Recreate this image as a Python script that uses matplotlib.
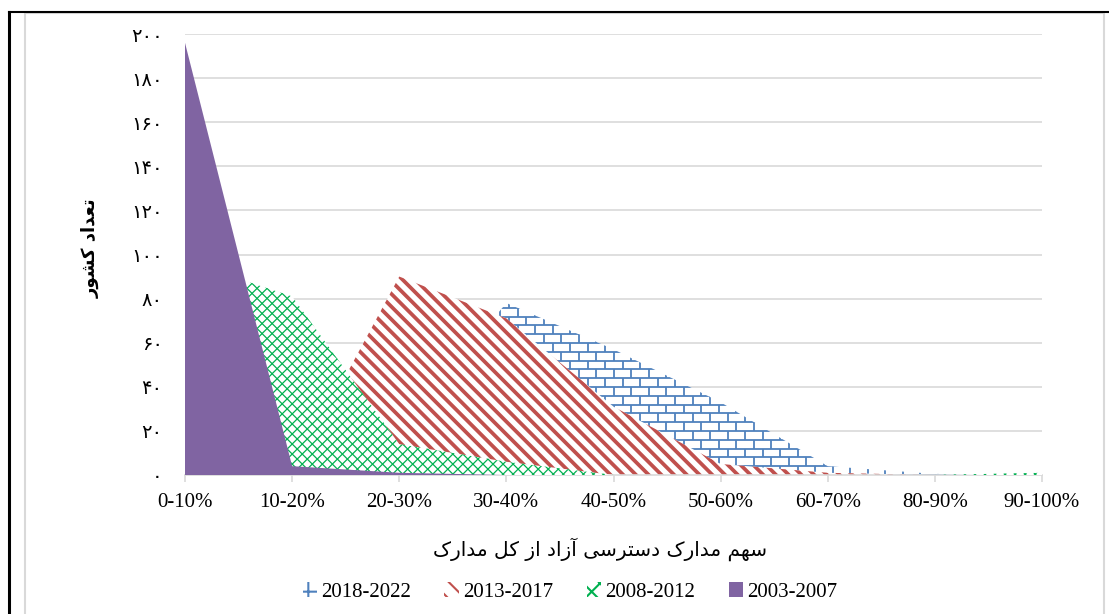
import numpy as np
import matplotlib

matplotlib.use("Agg")
import matplotlib.pyplot as plt
from matplotlib.collections import LineCollection
from matplotlib.lines import Line2D
from matplotlib.patches import Patch, Rectangle
from matplotlib.path import Path
from matplotlib.transforms import IdentityTransform

# ---- data ----
categories = ["0-10%", "10-20%", "20-30%", "30-40%", "40-50%",
              "50-60%", "60-70%", "80-90%", "90-100%"]
s2003_2007 = [196, 4, 1, 0, 0, 0, 0, 0, 0]
s2008_2012 = [97, 81, 14, 6, 0, 0, 0, 0, 1]
s2013_2017 = [0, 0, 90, 71, 31, 5, 1, 0, 0]
s2018_2022 = [0, 5, 20, 78, 57, 33, 4, 0.5, 0]
y_ticks = list(range(0, 201, 20))

PURPLE = "#8064A2"
GREEN = "#00B050"
RED = "#C0504D"
BLUE = "#4F81BD"
GRID = "#D9D9D9"

# ---- minimal Persian shaping (matplotlib has no complex text layout) ----
FORMS = {
    "\u062A": ("\uFE95", "\uFE96", "\uFE97", "\uFE98"),  # te
    "\u0639": ("\uFEC9", "\uFECA", "\uFECB", "\uFECC"),  # ein
    "\u06A9": ("\uFB8E", "\uFB8F", "\uFB90", "\uFB91"),  # kaf
    "\u0634": ("\uFEB5", "\uFEB6", "\uFEB7", "\uFEB8"),  # shin
    "\u0633": ("\uFEB1", "\uFEB2", "\uFEB3", "\uFEB4"),  # sin
    "\u0647": ("\uFEE9", "\uFEEA", "\uFEEB", "\uFEEC"),  # he
    "\u0645": ("\uFEE1", "\uFEE2", "\uFEE3", "\uFEE4"),  # mim
    "\u06CC": ("\uFBFC", "\uFBFD", "\uFBFE", "\uFBFF"),  # ye
    "\u0644": ("\uFEDD", "\uFEDE", "\uFEDF", "\uFEE0"),  # lam
    "\u062F": ("\uFEA9", "\uFEAA"),  # dal
    "\u0627": ("\uFE8D", "\uFE8E"),  # alef
    "\u0648": ("\uFEED", "\uFEEE"),  # vav
    "\u0631": ("\uFEAD", "\uFEAE"),  # re
    "\u0632": ("\uFEAF", "\uFEB0"),  # ze
    "\u0622": ("\uFE81", "\uFE82"),  # alef madda
}


def shape(text):
    out = []
    for i, ch in enumerate(text):
        f = FORMS.get(ch)
        if f is None:
            out.append(ch)
            continue
        prev = text[i - 1] if i > 0 else ""
        nxt = text[i + 1] if i + 1 < len(text) else ""
        jp = prev in FORMS and len(FORMS[prev]) == 4
        jn = len(f) == 4 and nxt in FORMS
        if jp and jn:
            out.append(f[3])
        elif jp:
            out.append(f[1])
        elif jn:
            out.append(f[2])
        else:
            out.append(f[0])
    return "".join(reversed(out))


FA_DIGITS = str.maketrans("0123456789", "\u06F0\u06F1\u06F2\u06F3\u06F4\u06F5\u06F6\u06F7\u06F8\u06F9")


def clip_to(coll, poly, ax):
    paths = poly.get_paths()
    coll.set_clip_path(Path.make_compound_path(*paths), ax.transData)


def stripes(ax, poly, angle, spacing, lw, color, z):
    bb = ax.bbox
    diag = np.hypot(bb.width, bb.height)
    cx, cy = bb.x0 + bb.width / 2, bb.y0 + bb.height / 2
    th = np.radians(angle)
    d = np.array([np.cos(th), np.sin(th)])
    n = np.array([-d[1], d[0]])
    segs = []
    for o in np.arange(-diag / 2, diag / 2 + spacing, spacing):
        p = np.array([cx, cy]) + o * n
        segs.append([p - diag / 2 * d, p + diag / 2 * d])
    lc = LineCollection(segs, colors=color, linewidths=lw,
                        transform=IdentityTransform(), zorder=z)
    ax.add_collection(lc, autolim=False)
    clip_to(lc, poly, ax)


def bricks(ax, poly, color, z, row=8.8, width=17.5, lw=1.3):
    bb = ax.bbox
    segs = []
    for i, y in enumerate(np.arange(bb.y0, bb.y1 + row, row)):
        segs.append([(bb.x0, y), (bb.x1, y)])
        off = (width / 2) * (i % 2)
        for x in np.arange(bb.x0 - width + off, bb.x1 + width, width):
            segs.append([(x, y), (x, y + row)])
    lc = LineCollection(segs, colors=color, linewidths=lw,
                        transform=IdentityTransform(), zorder=z)
    ax.add_collection(lc, autolim=False)
    clip_to(lc, poly, ax)


fig = plt.figure(figsize=(11.09, 6.14), dpi=100)
ax = fig.add_axes([185 / 1109, 139 / 614, 857 / 1109, 441 / 614])
x = np.arange(len(categories))

# back to front: 2018-2022, 2013-2017, 2008-2012, 2003-2007
p = ax.fill_between(x, 0, s2018_2022, facecolor="white", lw=0, zorder=1)
bricks(ax, p, BLUE, 1.1)
p = ax.fill_between(x, 0, s2013_2017, facecolor="white", lw=0, zorder=2)
stripes(ax, p, -45, 9.0, 2.7, RED, 2.1)
p = ax.fill_between(x, 0, s2008_2012, facecolor="white", lw=0, zorder=3)
stripes(ax, p, 45, 7.1, 0.9, GREEN, 3.1)
stripes(ax, p, -45, 7.1, 0.9, GREEN, 3.1)
ax.fill_between(x, 0, s2003_2007, facecolor=PURPLE, lw=0, zorder=4)

ax.set_xlim(0, len(categories) - 1)
ax.set_ylim(0, 200)
ax.set_xticks(x)
ax.set_xticklabels(categories, family="Liberation Serif", fontsize=15)
ax.set_yticks(y_ticks)
ax.set_yticklabels([str(v).translate(FA_DIGITS) for v in y_ticks],
                   family="DejaVu Sans", fontsize=14)
ax.tick_params(axis="y", length=0, pad=16)
ax.tick_params(axis="x", length=5, color=GRID, width=1.2, pad=8)
ax.grid(axis="y", color=GRID, lw=1.2, zorder=0)
ax.set_axisbelow(True)
for side in ("left", "right", "top"):
    ax.spines[side].set_visible(False)
ax.spines["bottom"].set_color(GRID)
ax.spines["bottom"].set_linewidth(1.2)

ax.set_ylabel(shape("\u062A\u0639\u062F\u0627\u062F \u06A9\u0634\u0648\u0631"),
              family="DejaVu Sans", fontsize=13, fontweight="bold")
ax.yaxis.set_label_coords(-0.099, 0.515)
ax.set_xlabel(shape("\u0633\u0647\u0645 \u0645\u062F\u0627\u0631\u06A9 "
                    "\u062F\u0633\u062A\u0631\u0633\u06CC \u0622\u0632\u0627\u062F "
                    "\u0627\u0632 \u06A9\u0644 \u0645\u062F\u0627\u0631\u06A9"),
              family="DejaVu Sans", fontsize=14.5)
ax.xaxis.set_label_coords(0.484, -0.141)

plt.rcParams["hatch.linewidth"] = 1.5
handles = [
    Patch(facecolor="white", edgecolor=BLUE, hatch="+", lw=0),
    Patch(facecolor="white", edgecolor=RED, hatch="\\\\", lw=0),
    Patch(facecolor="white", edgecolor=GREEN, hatch="xx", lw=0),
    Patch(facecolor=PURPLE, edgecolor=PURPLE, lw=0),
]
labels = ["2018-2022", "2013-2017", "2008-2012", "2003-2007"]
fig.legend(handles, labels, loc="center", bbox_to_anchor=(0.514, 0.036),
           ncol=4, frameon=False, prop={"family": "Liberation Serif", "size": 15},
           handlelength=0.7, handleheight=0.7, handletextpad=0.2,
           columnspacing=1.6)

# chart frame
fig.add_artist(Rectangle((25 / 1109, -0.02), 1079 / 1109, 601 / 614 + 0.02,
                         transform=fig.transFigure, fill=False,
                         edgecolor=GRID, lw=1.5))
fig.add_artist(Line2D([8.5 / 1109, 8.5 / 1109], [0, 1 - 12 / 614],
                      transform=fig.transFigure, color="black", lw=2.2))
fig.add_artist(Line2D([8.5 / 1109, 1], [1 - 12 / 614, 1 - 12 / 614],
                      transform=fig.transFigure, color="black", lw=1.5))

fig.savefig("out.png", dpi=100, facecolor="white")
